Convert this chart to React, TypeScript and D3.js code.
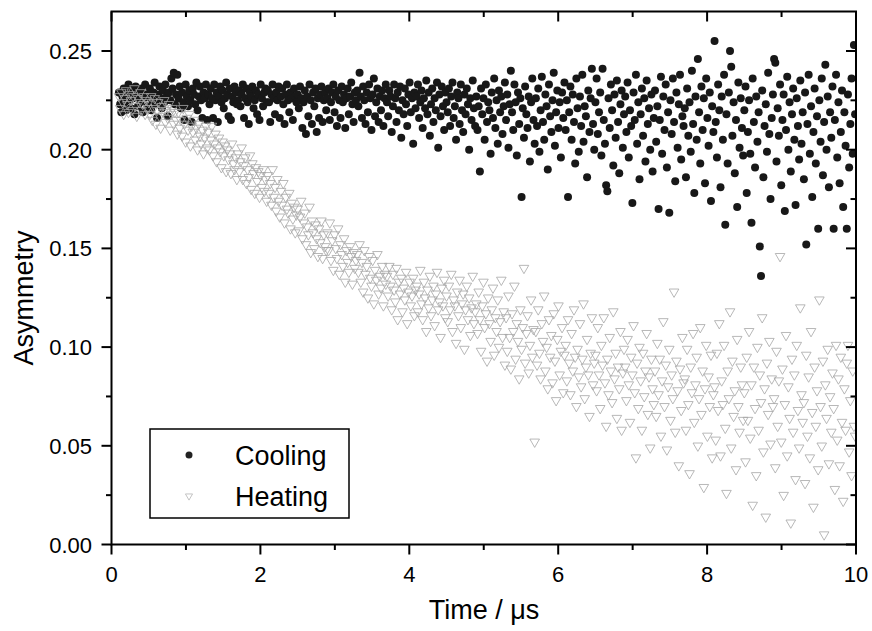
import React from "react";
import * as d3 from "d3";

// ---- data (asymmetry in units of 0.001, bins of 0.016 µs starting at 0.1 µs) ----
const timeStart = 0.1;
const binWidth = 0.016;

const coolingMilli: number[] = [
  229,223,219,227,231,224,220,228,233,225,221,230,226,218,232,227,222,229,224,231,219,226,233,228,222,
  227,231,220,225,229,234,223,216,228,232,226,221,230,224,233,227,217,229,225,236,231,239,223,228,238,
  226,232,221,229,224,215,233,227,222,230,225,214,231,228,223,234,220,227,232,225,216,229,226,233,215,
  228,223,231,226,216,233,225,229,214,227,232,224,230,221,226,234,228,217,231,215,227,224,232,229,223,
  225,230,222,228,233,216,226,231,224,213,229,227,232,221,225,230,218,228,215,233,226,222,229,231,224,
  230,224,214,228,233,226,218,229,225,232,216,227,231,223,213,228,233,225,219,229,226,215,231,227,224,
  228,221,232,226,211,224,230,208,227,217,233,225,213,229,222,231,209,226,216,228,232,214,225,229,220,
  226,231,215,224,229,233,219,227,212,230,225,216,232,224,228,211,226,231,218,227,234,223,214,229,225,
  230,222,239,227,216,232,225,213,229,219,233,226,210,228,236,217,224,231,214,227,220,230,212,226,233,
  224,217,230,227,209,222,233,226,214,229,220,232,206,225,218,231,223,212,228,234,219,226,203,229,221,
  227,233,216,224,230,211,226,221,235,218,229,207,223,231,214,226,220,234,201,228,217,232,222,210,229,
  224,219,231,212,227,234,216,222,205,229,226,213,233,220,209,228,218,231,223,200,226,215,235,221,212,
  227,210,222,189,231,218,226,205,233,214,224,220,198,229,216,236,211,225,203,230,219,227,208,222,234,
  215,228,201,223,240,219,210,233,224,197,229,213,226,176,221,206,232,218,211,227,194,224,236,215,203,
  226,212,231,199,220,237,214,205,228,222,190,233,217,209,225,239,202,219,230,211,224,196,229,216,234,
  210,225,176,219,232,205,228,214,193,236,221,199,227,212,238,204,222,217,186,230,209,226,241,213,200,
  224,236,208,219,229,197,241,215,203,182,179,226,211,233,220,192,228,206,235,214,188,223,230,201,218,
  227,209,234,196,220,212,173,229,215,238,203,224,185,218,231,207,226,194,235,213,221,200,228,189,216,
  230,204,222,170,215,237,198,227,210,233,191,219,168,225,208,236,214,184,229,201,223,238,195,217,212,
  221,186,231,207,224,199,240,213,178,227,205,246,219,193,232,210,226,183,236,216,202,229,174,222,209,
  255,214,196,233,220,181,227,205,238,162,218,193,229,250,242,207,224,188,215,171,234,201,226,211,197,
  220,232,178,209,225,198,163,236,214,191,227,204,219,151,136,230,186,212,223,199,239,208,175,216,228,
  246,244,194,221,207,233,182,215,228,169,210,237,200,224,189,218,231,205,172,226,212,195,235,203,219,
  185,229,152,213,238,198,222,176,209,231,193,217,160,225,204,236,187,214,243,200,227,181,219,206,232,
  160,215,238,196,224,183,209,230,171,219,202,160,228,191,213,236,198,253,218,
];

const heatingMilli: number[] = [
  227,221,229,224,218,226,230,223,219,228,225,220,227,231,222,217,226,224,229,220,223,227,218,225,221,
  224,218,227,215,221,226,213,220,224,217,211,222,219,225,214,220,216,223,210,218,221,213,219,215,208,
  219,211,215,207,221,213,204,216,210,218,202,212,209,215,205,211,200,213,207,203,210,198,206,212,201,
  209,200,205,212,197,203,208,194,201,206,199,191,204,197,202,189,200,195,198,188,203,193,190,196,185,
  198,189,194,201,185,192,196,183,190,186,197,180,193,188,178,191,184,189,176,187,181,190,179,185,174,
  187,178,183,172,190,176,181,169,185,174,166,179,172,183,163,176,170,168,178,160,173,165,171,158,167,
  170,159,166,174,155,163,168,152,161,157,171,148,164,158,150,162,155,146,160,153,164,145,157,151,149,
  158,149,163,144,154,139,157,150,145,160,137,152,147,141,155,133,149,143,138,151,146,132,148,140,144,
  147,138,152,133,143,128,149,137,141,125,146,135,131,144,122,139,134,147,127,136,130,141,121,137,132,
  136,126,141,131,119,137,129,123,140,114,133,127,135,118,130,124,138,112,128,133,121,126,135,116,129,
  131,118,127,139,122,114,133,125,108,129,120,136,116,124,131,111,127,138,119,123,105,130,121,134,115,
  126,113,131,119,137,108,124,121,102,128,116,134,110,122,127,99,119,131,114,125,106,120,136,112,118,
  122,107,128,114,98,121,133,110,117,93,125,112,103,119,130,96,115,108,124,100,113,134,105,118,91,
  115,98,126,105,89,117,108,131,94,112,103,84,119,99,110,140,92,107,116,87,101,124,95,109,52,
  108,91,119,97,84,112,103,126,88,100,79,114,95,106,82,117,93,73,104,121,86,98,110,77,96,
  101,83,114,92,76,107,88,119,95,70,99,85,112,80,94,122,74,90,104,86,65,97,115,81,92,
  96,78,110,86,69,101,91,115,82,60,94,76,105,88,72,118,84,97,64,90,79,108,58,87,99,
  90,73,104,81,62,95,86,111,77,44,92,69,100,83,58,97,75,88,107,66,85,49,94,79,71,
  88,65,102,76,94,55,83,113,70,91,48,80,99,63,86,74,128,57,93,78,40,89,68,105,82,
  84,58,99,71,36,90,77,107,62,81,95,50,74,110,66,88,29,79,101,55,85,70,96,44,76,
  80,53,97,68,112,45,83,71,101,59,26,88,74,118,49,93,65,78,38,104,70,57,90,81,63,
  77,42,95,63,108,54,81,20,90,69,35,100,58,86,72,115,47,79,14,92,66,103,51,84,70,
  74,39,98,60,83,146,52,89,25,71,106,45,80,64,11,94,57,86,33,101,68,49,120,76,62,
  72,31,96,55,85,44,108,67,19,90,60,78,38,124,70,50,93,5,81,64,99,41,75,57,87,
  69,28,101,53,84,40,95,62,22,79,58,92,101,47,73,35,88,60,55,
];

const xMajorTicks = [0, 2, 4, 6, 8, 10];
const xMinorTicks = [1, 3, 5, 7, 9];
const yMajorTicks = [0, 0.05, 0.1, 0.15, 0.2, 0.25];
const yMinorTicks = [0.025, 0.075, 0.125, 0.175, 0.225];
const yTickLabels = ["0.00", "0.05", "0.10", "0.15", "0.20", "0.25"];
const seriesNames = ["Cooling", "Heating"];

const W = 872;
const H = 631;
const L = 111.5, R = 856, T = 11.5, B = 544.5;
const FONT = "'Liberation Sans', Arial, Helvetica, sans-serif";

export default function App() {
  const x = d3.scaleLinear().domain([0, 10]).range([L, R]);
  const y = d3.scaleLinear().domain([0, 0.27]).range([B, T]);
  const tri = d3.symbol(d3.symbolTriangle, 40)() as string;

  const cooling = coolingMilli.map((v, i) => ({ t: timeStart + i * binWidth, a: v / 1000 }));
  const heating = heatingMilli.map((v, i) => ({ t: timeStart + i * binWidth, a: v / 1000 }));

  const major = 10, minor = 5.5;

  return (
    <svg width={W} height={H} style={{ position: "absolute", left: 0, top: 0, background: "#fff" }}>
      <rect x={0} y={0} width={W} height={H} fill="#fff" />
      <defs>
        <clipPath id="clip">
          <rect x={L} y={T} width={R - L} height={B - T} />
        </clipPath>
      </defs>
      <g clipPath="url(#clip)">
        {cooling.map((d, i) => (
          <circle key={"c" + i} cx={x(d.t)} cy={y(d.a)} r={4} fill="#181818" />
        ))}
        {heating.map((d, i) => (
          <path key={"h" + i} d={tri} transform={`translate(${x(d.t)},${y(d.a)}) rotate(180)`}
            fill="none" stroke="#a6a6a6" strokeWidth={0.8} />
        ))}
      </g>

      {/* frame */}
      <rect x={L} y={T} width={R - L} height={B - T} fill="none" stroke="#000" strokeWidth={2} />

      {/* x ticks */}
      {xMajorTicks.map((v) => (
        <g key={"xM" + v}>
          <line x1={x(v)} x2={x(v)} y1={B} y2={B + major} stroke="#000" strokeWidth={2} />
          <line x1={x(v)} x2={x(v)} y1={T} y2={T + major} stroke="#000" strokeWidth={2} />
          <text x={x(v)} y={582} textAnchor="middle" fontFamily={FONT} fontSize={22}>{v}</text>
        </g>
      ))}
      {xMinorTicks.map((v) => (
        <g key={"xm" + v}>
          <line x1={x(v)} x2={x(v)} y1={B} y2={B + minor} stroke="#000" strokeWidth={2} />
          <line x1={x(v)} x2={x(v)} y1={T} y2={T + minor} stroke="#000" strokeWidth={2} />
        </g>
      ))}

      {/* y ticks */}
      {yMajorTicks.map((v, i) => (
        <g key={"yM" + v}>
          <line x1={L - major} x2={L} y1={y(v)} y2={y(v)} stroke="#000" strokeWidth={2} />
          <line x1={R - major} x2={R} y1={y(v)} y2={y(v)} stroke="#000" strokeWidth={2} />
          <text x={92} y={y(v) + 8} textAnchor="end" fontFamily={FONT} fontSize={22}>{yTickLabels[i]}</text>
        </g>
      ))}
      {yMinorTicks.map((v) => (
        <g key={"ym" + v}>
          <line x1={L - minor} x2={L} y1={y(v)} y2={y(v)} stroke="#000" strokeWidth={2} />
          <line x1={R - minor} x2={R} y1={y(v)} y2={y(v)} stroke="#000" strokeWidth={2} />
        </g>
      ))}

      {/* axis titles */}
      <text x={484} y={619} textAnchor="middle" fontFamily={FONT} fontSize={27}>Time / μs</text>
      <text transform="translate(33,298) rotate(-90)" textAnchor="middle" fontFamily={FONT} fontSize={27}>Asymmetry</text>

      {/* legend */}
      <rect x={150} y={429} width={199} height={89} fill="#fff" stroke="#000" strokeWidth={1.5} />
      <circle cx={189} cy={455} r={3.5} fill="#222" />
      <path d={d3.symbol(d3.symbolTriangle, 22)() as string} transform="translate(189,496) rotate(180)"
        fill="none" stroke="#b5b5b5" strokeWidth={0.8} />
      <text x={235} y={465} fontFamily={FONT} fontSize={27}>{seriesNames[0]}</text>
      <text x={235} y={506} fontFamily={FONT} fontSize={27}>{seriesNames[1]}</text>
    </svg>
  );
}
